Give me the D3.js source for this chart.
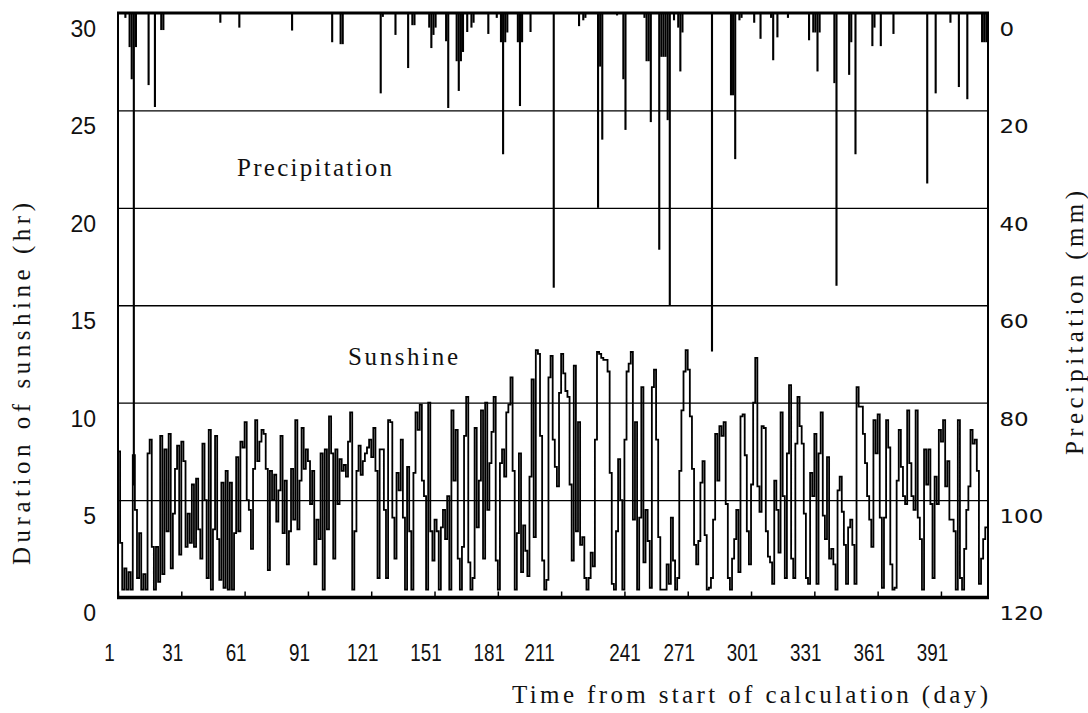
<!DOCTYPE html>
<html><head><meta charset="utf-8">
<script src="https://cdn.jsdelivr.net/npm/d3@7"></script>
<style>body{margin:0;background:#fff}svg{display:block}</style>
</head><body>
<svg id="c" width="1088" height="713"></svg>
<script>
// Daily sunshine duration (hr), days 1..412
const sunshineDays1to100 = [
7.5,2.8,0.4,1.5,0.4,1.3,0.4,7.3,4.5,1.0,
3.3,0.4,1.2,0.4,7.4,8.1,2.6,0.4,2.6,0.8,
8.3,1.2,7.6,3.4,8.4,1.5,4.3,6.6,7.8,2.2,
8.0,7.0,2.6,4.3,2.8,5.8,2.6,6.1,3.5,2.0,
7.9,5.0,1.0,8.6,0.4,3.5,8.3,3.0,0.9,5.9,
0.5,6.5,0.4,5.9,0.4,3.3,7.2,3.4,8.0,7.7,
9.0,5.0,4.5,2.5,6.6,9.1,7.0,8.0,8.6,8.4,
6.6,1.4,6.5,5.0,6.3,3.9,5.5,8.3,3.3,6.0,
1.7,3.4,6.6,4.0,9.1,3.5,6.0,8.7,6.6,7.6,
7.0,4.8,6.5,1.7,4.0,3.0,7.4,0.4,7.6,3.5];
const sunshineDays101to206 = [
9.3,7.4,2.0,7.6,4.8,7.1,6.5,6.8,6.2,8.0,
9.5,0.4,3.4,6.5,7.8,6.3,7.0,7.4,7.7,8.1,
7.2,8.7,6.5,1.0,7.6,7.6,4.5,1.0,9.1,9.0,
4.1,2.0,6.4,5.5,8.1,4.1,0.4,6.7,3.4,0.4,
6.4,9.5,8.6,9.9,6.0,5.2,0.4,10.0,3.4,1.9,
4.0,3.4,0.4,3.6,4.5,3.0,5.2,0.4,9.6,6.0,
8.6,2.0,0.4,2.6,8.3,10.3,1.8,0.4,1.0,8.7,
3.6,6.0,9.6,2.0,10.0,4.5,6.9,8.5,10.3,1.9,
0.4,6.9,7.6,6.2,9.5,9.9,11.3,6.5,0.4,3.3,
7.4,1.3,3.7,2.4,1.1,6.2,11.2,3.1,12.7,12.5,
8.3,1.9,0.4,0.9,11.3,12.4];
const sunshineDays207to310 = [
8.1,6.7,5.7,10.5,12.5,11.5,10.6,10.3,5.8,1.9,
11.9,3.4,9.0,2.7,3.1,1.0,0.4,1.0,2.3,1.6,
8.1,12.6,12.5,12.3,12.2,12.2,11.6,6.4,0.7,0.4,
3.4,7.1,5.0,0.4,8.1,11.6,12.0,12.6,4.0,9.0,
0.4,4.1,10.8,1.8,4.5,2.9,0.5,10.8,11.7,8.1,
3.1,0.4,0.4,0.4,1.7,0.7,4.1,1.9,0.4,1.0,
6.5,9.6,11.6,12.7,11.7,9.3,6.6,2.7,1.7,2.9,
5.9,7.0,3.2,0.4,0.5,1.0,4.0,8.4,6.0,8.8,
8.3,9.0,4.8,1.0,0.4,2.0,3.0,4.5,1.3,9.3,
9.4,7.3,3.4,1.7,5.8,10.0,12.3,5.7,4.4,8.8,
8.7,3.4,2.1,1.8];
const sunshineDays311to412 = [
0.7,6.0,4.5,2.3,9.5,5.2,1.0,7.4,10.9,2.0,
1.0,7.9,10.3,8.8,7.9,4.3,1.0,0.7,6.4,5.2,
8.4,0.7,7.4,9.5,4.2,3.0,7.2,2.0,2.5,1.7,
0.4,5.5,6.2,4.4,2.7,0.7,3.6,4.0,2.7,0.7,
10.8,9.8,9.8,8.4,6.9,5.2,4.0,2.6,9.1,7.4,
9.4,4.1,0.5,4.1,9.1,7.7,1.7,0.4,0.5,6.0,
8.6,6.7,5.2,4.8,9.6,6.9,5.2,4.5,9.6,4.1,
3.0,0.4,7.6,5.8,7.6,4.8,1.0,6.2,4.8,8.6,
8.0,9.1,5.7,7.0,4.0,4.0,3.4,0.4,9.1,1.0,
0.4,2.5,4.5,5.7,8.6,7.9,8.1,6.5,0.7,2.0,
3.0,3.6];

// Daily precipitation (mm) on rainy days
const rainDays = [4,6,7,8,9,15,18,21,22,49,58,83,102,106,107,125,126,132,138,140,141,148,149,150,151,156,157,161,162,163,164,166,168,169,176,180,182,183,184,185,190,191,192,196,207,219,221,222,228,229,230,237,240,241,250,251,252,253,257,258,259,260,261,262,264,266,267,268,282,291,292,293,295,296,302,305,310,311,313,318,328,330,331,332,333,340,341,347,348,350,358,359,362,368,384,388,395,399,403,410,411,412];
const rainMm = [1,7,13.6,97,7,14.8,19.3,3.5,3.5,2,3,3.6,6,6.4,6.4,16.5,0.8,4.5,11.3,2.5,2.5,3,7.2,4.5,3,5.8,19.5,9.9,16,9.9,8,3.9,3,2,4.3,1,6,29,6,4,6,19.1,6,3.9,56.4,2.7,1.5,1,40,11,26,0.5,13.6,24,1,9.9,9.9,22.4,48.6,9,9,9,22,60,1.5,3,12,4,69.5,16.9,16.9,30,1.5,1,2,5.3,1,9.7,5,1,5.6,4,4,12,4,14.4,56,12.7,6,29,6.8,3,6.8,4.3,35,16.5,2,15.2,17.7,6,6,6];

const xTickDays = [1,31,61,91,121,151,181,211,241,271,301,331,361,391];
const sunTicks = [0,5,10,15,20,25,30];
const rainTicks = [0,20,40,60,80,100,120];

const sunshine = sunshineDays1to100.concat(sunshineDays101to206, sunshineDays207to310, sunshineDays311to412);

const svg = d3.select("#c");
const L = 118, R = 988, T = 13, B = 597.5;
const x = d3.scaleLinear().domain([1, 413.3]).range([L, R]);
const ySun = d3.scaleLinear().domain([0, 30]).range([B, T]);
const yRain = d3.scaleLinear().domain([0, 120]).range([T, B]);

svg.append("rect").attr("width",1088).attr("height",713).attr("fill","#fff");

// gridlines
svg.append("g").attr("transform",`translate(${L},0)`)
  .call(d3.axisLeft(ySun).tickValues([5,10,15,20,25]).tickSize(-(R-L)).tickFormat(""))
  .call(g=>g.select(".domain").remove())
  .selectAll("line").attr("stroke","#000").attr("stroke-width",1.4);

// precipitation bars hanging from top
svg.append("g").selectAll("rect").data(rainDays).join("rect")
  .attr("x", d => x(d))
  .attr("width", d => x(d+1) - x(d))
  .attr("y", yRain(0))
  .attr("height", (d,i) => yRain(rainMm[i]) - yRain(0))
  .attr("fill","#000");

// sunshine step line
const pts = sunshine.map((v,i)=>[i+1, v]);
pts.push([sunshine.length+1, sunshine[sunshine.length-1]]);
svg.append("path").datum(pts)
  .attr("d", d3.line().x(d=>x(d[0])).y(d=>ySun(d[1])).curve(d3.curveStepAfter))
  .attr("fill","none").attr("stroke","#000").attr("stroke-width",1.8);

// frame
svg.append("line").attr("x1",L-1).attr("x2",R+1).attr("y1",T).attr("y2",T).attr("stroke","#000").attr("stroke-width",3);
svg.append("line").attr("x1",L-1).attr("x2",R+1).attr("y1",B).attr("y2",B).attr("stroke","#000").attr("stroke-width",3.5);
svg.append("line").attr("x1",L).attr("x2",L).attr("y1",T).attr("y2",B).attr("stroke","#000").attr("stroke-width",2);
svg.append("line").attr("x1",R).attr("x2",R).attr("y1",T).attr("y2",B).attr("stroke","#000").attr("stroke-width",2);

// x axis ticks (inside) + labels
const xAx = svg.append("g").attr("transform",`translate(0,${B})`)
  .call(d3.axisBottom(x).tickValues(xTickDays).tickSize(-6).tickPadding(0).tickFormat(d=>d));
xAx.select(".domain").remove();
xAx.selectAll("line").attr("stroke","#000").attr("stroke-width",1.5);
xAx.selectAll("text")
  .attr("font-family","'Liberation Sans', Arial, sans-serif").attr("font-size",23)
  .attr("fill","#111").attr("dy",0).attr("y",64)
  .attr("transform", d => `translate(${d===211?-22:(d===241?0:-9)},0) scale(0.82,1)`);

// left labels
const yl = svg.append("g").attr("transform",`translate(${L},0)`)
  .call(d3.axisLeft(ySun).tickValues(sunTicks).tickSize(0).tickPadding(22));
yl.select(".domain").remove();
yl.selectAll("text").attr("font-family","'Liberation Sans', Arial, sans-serif").attr("font-size",23)
  .attr("fill","#111").attr("transform","translate(0,16)");

// right labels
const yr = svg.append("g").attr("transform",`translate(${R},0)`)
  .call(d3.axisRight(yRain).tickValues(rainTicks).tickSize(0).tickPadding(10));
yr.select(".domain").remove();
yr.selectAll("text").attr("font-family","'DejaVu Sans', Verdana, sans-serif").attr("font-size",20)
  .attr("fill","#111").attr("transform","translate(0,16) scale(1.15,1)");

// titles
const serif = "'Liberation Serif', 'Times New Roman', serif";
svg.append("text").attr("x",512).attr("y",703).attr("font-family",serif).attr("font-size",25)
  .attr("textLength",476).attr("lengthAdjust","spacing").attr("fill","#111")
  .text("Time from start of calculation (day)");
svg.append("text").attr("transform","translate(30,565) rotate(-90)").attr("font-family",serif).attr("font-size",25)
  .attr("textLength",362).attr("lengthAdjust","spacing").attr("fill","#111")
  .text("Duration of sunshine (hr)");
svg.append("text").attr("transform","translate(1083,455) rotate(-90)").attr("font-family",serif).attr("font-size",25)
  .attr("textLength",264).attr("lengthAdjust","spacing").attr("fill","#111")
  .text("Precipitation (mm)");
svg.append("text").attr("x",237).attr("y",176).attr("font-family",serif).attr("font-size",25)
  .attr("textLength",155).attr("lengthAdjust","spacing").attr("fill","#111")
  .text("Precipitation");
svg.append("text").attr("x",348).attr("y",365).attr("font-family",serif).attr("font-size",25)
  .attr("textLength",110).attr("lengthAdjust","spacing").attr("fill","#111")
  .text("Sunshine");
</script>
</body></html>
